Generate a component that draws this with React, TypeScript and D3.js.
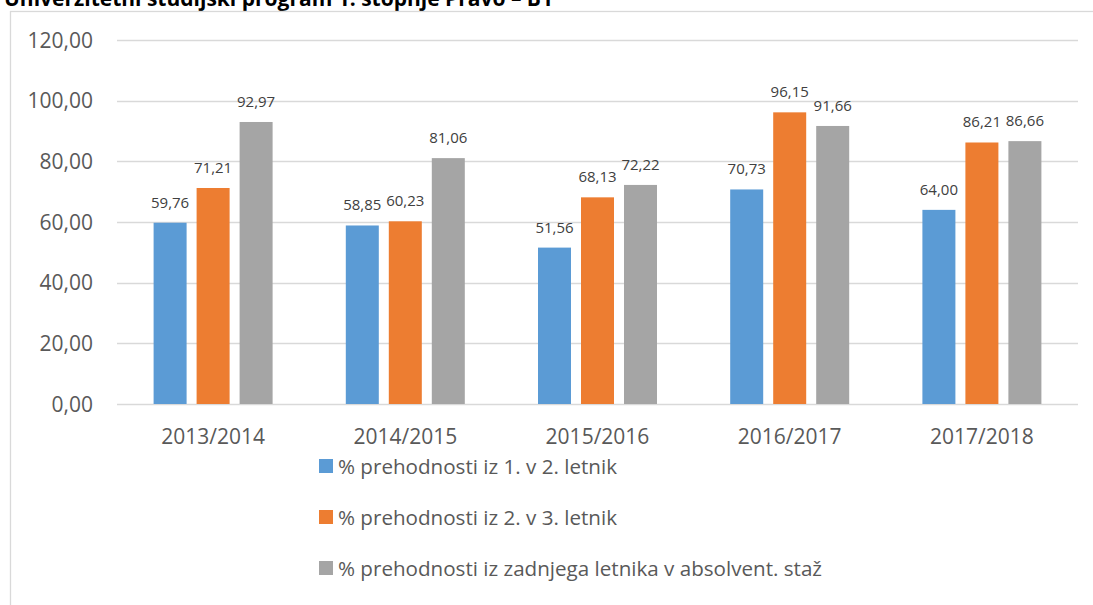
import React from "react";
import * as d3 from "d3";

// chart data
const years = ["2013/2014", "2014/2015", "2015/2016", "2016/2017", "2017/2018"];
const prvi = [59.76, 58.85, 51.56, 70.73, 64.0];
const drugi = [71.21, 60.23, 68.13, 96.15, 86.21];
const zadnji = [92.97, 81.06, 72.22, 91.66, 86.66];
const seriesNames = [
  "% prehodnosti iz 1. v 2. letnik",
  "% prehodnosti iz 2. v 3. letnik",
  "% prehodnosti iz zadnjega letnika v absolvent. staž",
];
const yTicks = [0, 20, 40, 60, 80, 100, 120];
const title = "Univerzitetni študijski program 1. stopnje Pravo – B1";

const colors = ["#5B9BD5", "#ED7D31", "#A5A5A5"];
const FONT = "'Open Sans', 'Noto Sans', sans-serif";

const width = 1093;
const height = 605;
const margin = { top: 40, right: 15, bottom: 201, left: 117 };

const fmt = (v: number) => v.toFixed(2).replace(".", ",");

export default function App() {
  const series = [prvi, drugi, zadnji];

  const x = d3.scaleBand()
    .domain(years)
    .range([margin.left, width - margin.right])
    .paddingInner(0)
    .paddingOuter(0);

  const y = d3.scaleLinear()
    .domain([0, 120])
    .range([height - margin.bottom, margin.top]);

  const barW = 33;
  const barGap = 10;
  const groupW = 3 * barW + 2 * barGap;

  const barX = (i: number, s: number) =>
    (x(years[i]) as number) + x.bandwidth() / 2 - groupW / 2 + s * (barW + barGap);

  return (
    <svg
      width={width}
      height={height}
      style={{ position: "absolute", left: 0, top: 0, background: "#fff" }}
      fontFamily={FONT}
    >
      {/* title, clipped at the top like the source */}
      <text x={4} y={6} fontSize={21} fontWeight="bold" fill="#000">{title}</text>

      {/* chart frame */}
      <rect x={10.5} y={11.5} width={width} height={height} fill="none" stroke="#d9d9d9" strokeWidth={1.3} />

      {/* gridlines and y labels */}
      {yTicks.map(t => (
        <g key={t}>
          <line
            x1={margin.left} x2={width - margin.right}
            y1={Math.round(y(t)) + 0.5} y2={Math.round(y(t)) + 0.5}
            stroke="#d9d9d9" strokeWidth={1.3}
          />
          <text x={93} y={y(t) + 7.5} textAnchor="end" fontSize={21} fill="#595959">{fmt(t)}</text>
        </g>
      ))}

      {/* bars */}
      {series.map((vals, s) => (
        <g key={s} fill={colors[s]}>
          {vals.map((v, i) => (
            <rect key={i} x={barX(i, s)} y={y(v)} width={barW} height={y(0) - y(v)} />
          ))}
        </g>
      ))}

      {/* data labels */}
      {series.map((vals, s) => (
        <g key={"l" + s}>
          {vals.map((v, i) => (
            <text
              key={i}
              x={barX(i, s) + barW / 2}
              y={y(v) - 15}
              textAnchor="middle"
              fontSize={15}
              fill="#404040"
            >
              {fmt(v)}
            </text>
          ))}
        </g>
      ))}

      {/* category labels */}
      {years.map(c => (
        <text
          key={c}
          x={(x(c) as number) + x.bandwidth() / 2}
          y={y(0) + 40}
          textAnchor="middle"
          fontSize={21}
          fill="#595959"
        >
          {c}
        </text>
      ))}

      {/* legend */}
      {seriesNames.map((n, s) => (
        <g key={n} transform={`translate(319,${466 + s * 51})`}>
          <rect x={0} y={-7} width={14} height={14} fill={colors[s]} />
          <text x={19} y={7.5} fontSize={20.6} fill="#595959">{n}</text>
        </g>
      ))}
    </svg>
  );
}
